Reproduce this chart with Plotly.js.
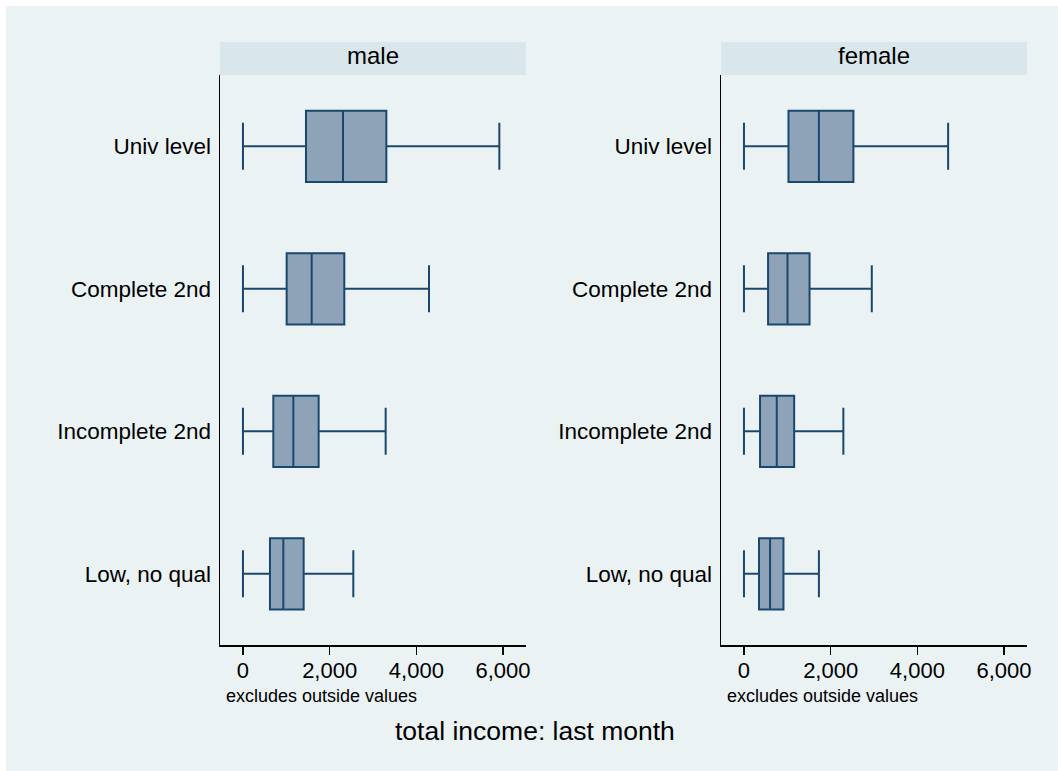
<!DOCTYPE html>
<html>
<head>
<meta charset="utf-8">
<script src="https://cdn.plot.ly/plotly-3.0.1.min.js"></script>
<style>html,body{margin:0;padding:0;background:#fff;}#chart{width:1058px;height:771px;}</style>
</head>
<body>
<div id="chart"></div>
<script>
// Categories (bottom to top)
const categories = ['Low, no qual', 'Incomplete 2nd', 'Complete 2nd', 'Univ level'];
const panels = ['male', 'female'];
const xTickVals = [0, 2000, 4000, 6000];
const xTickText = ['0', '2,000', '4,000', '6,000'];

// male: total income last month (excludes outside values)
const maleLower  = [0, 0, 0, 0];
const maleQ1     = [623, 700, 1008, 1454];
const maleMedian = [931, 1162, 1585, 2308];
const maleQ3     = [1400, 1746, 2338, 3308];
const maleUpper  = [2546, 3292, 4292, 5915];

// female
const femaleLower  = [0, 0, 0, 0];
const femaleQ1     = [347, 371, 556, 1027];
const femaleMedian = [602, 757, 1004, 1729];
const femaleQ3     = [911, 1158, 1513, 2525];
const femaleUpper  = [1729, 2293, 2949, 4710];

const W = 1058, H = 771;
const px = v => v / W, py = v => 1 - v / H;

const boxStyle = {
  type: 'box', orientation: 'h',
  fillcolor: '#8FA3B8',
  line: {color: '#1A476F', width: 2},
  width: 0.5, whiskerwidth: 0.66,
  boxpoints: false, hoverinfo: 'skip', showlegend: false
};

const traces = [
  Object.assign({}, boxStyle, {
    y: categories, q1: maleQ1, median: maleMedian, q3: maleQ3,
    lowerfence: maleLower, upperfence: maleUpper, xaxis: 'x', yaxis: 'y'
  }),
  Object.assign({}, boxStyle, {
    y: categories, q1: femaleQ1, median: femaleMedian, q3: femaleQ3,
    lowerfence: femaleLower, upperfence: femaleUpper, xaxis: 'x2', yaxis: 'y2'
  })
];

const font = {family: 'Liberation Sans, Arial, sans-serif', color: '#000'};
const xBase = {
  range: [-530, 6530], tickvals: xTickVals, ticktext: xTickText,
  ticks: 'outside', ticklen: 8, tickcolor: '#000', tickwidth: 1.2,
  ticklabelstandoff: -3,
  showline: true, linecolor: '#000', linewidth: 1.5,
  showgrid: true, gridcolor: '#EAF2F3', gridwidth: 1.5,
  zeroline: false, fixedrange: true,
  tickfont: Object.assign({size: 22}, font)
};
const yBase = {
  type: 'category', categoryorder: 'array', categoryarray: categories,
  range: [-0.5, 3.5], showline: true, linecolor: '#000', linewidth: 1.5,
  showgrid: false, zeroline: false, ticks: 'outside', ticklen: 3,
  tickcolor: 'rgba(0,0,0,0)', fixedrange: true,
  tickfont: Object.assign({size: 22.5}, font)
};

const plotTop = 75, plotBot = 645, stripTop = 42;
const dom = [[220, 526], [721, 1027]];

const layout = {
  width: W, height: H,
  margin: {l: 0, r: 0, t: 0, b: 0},
  paper_bgcolor: '#FFFFFF', plot_bgcolor: '#FFFFFF',
  font: font,
  xaxis: Object.assign({}, xBase, {domain: [px(dom[0][0]), px(dom[0][1])], anchor: 'y'}),
  yaxis: Object.assign({}, yBase, {domain: [py(plotBot), py(plotTop)], anchor: 'x'}),
  xaxis2: Object.assign({}, xBase, {domain: [px(dom[1][0]), px(dom[1][1])], anchor: 'y2'}),
  yaxis2: Object.assign({}, yBase, {domain: [py(plotBot), py(plotTop)], anchor: 'x2'}),
  shapes: [
    {type: 'rect', xref: 'paper', yref: 'paper', x0: px(6), x1: 1, y0: 0, y1: py(6),
     fillcolor: '#EAF2F3', line: {width: 0}, layer: 'below'},
    {type: 'rect', xref: 'paper', yref: 'paper', x0: px(dom[0][0]), x1: px(dom[0][1]), y0: py(plotTop), y1: py(stripTop),
     fillcolor: '#D9E6EB', line: {width: 0}, layer: 'below'},
    {type: 'rect', xref: 'paper', yref: 'paper', x0: px(dom[1][0]), x1: px(dom[1][1]), y0: py(plotTop), y1: py(stripTop),
     fillcolor: '#D9E6EB', line: {width: 0}, layer: 'below'}
  ],
  annotations: [
    {text: panels[0], xref: 'paper', yref: 'paper', x: px((dom[0][0] + dom[0][1]) / 2), y: py(56),
     xanchor: 'center', yanchor: 'middle', showarrow: false, font: Object.assign({size: 24}, font)},
    {text: panels[1], xref: 'paper', yref: 'paper', x: px((dom[1][0] + dom[1][1]) / 2), y: py(56),
     xanchor: 'center', yanchor: 'middle', showarrow: false, font: Object.assign({size: 24}, font)},
    {text: 'excludes outside values', xref: 'paper', yref: 'paper', x: px(224), y: py(696),
     xanchor: 'left', yanchor: 'middle', showarrow: false, font: Object.assign({size: 18}, font)},
    {text: 'excludes outside values', xref: 'paper', yref: 'paper', x: px(725), y: py(696),
     xanchor: 'left', yanchor: 'middle', showarrow: false, font: Object.assign({size: 18}, font)},
    {text: 'total income: last month', xref: 'paper', yref: 'paper', x: px(535), y: py(731),
     xanchor: 'center', yanchor: 'middle', showarrow: false, font: Object.assign({size: 26.5}, font)}
  ]
};

Plotly.newPlot('chart', traces, layout, {displayModeBar: false, staticPlot: true});
</script>
</body>
</html>
